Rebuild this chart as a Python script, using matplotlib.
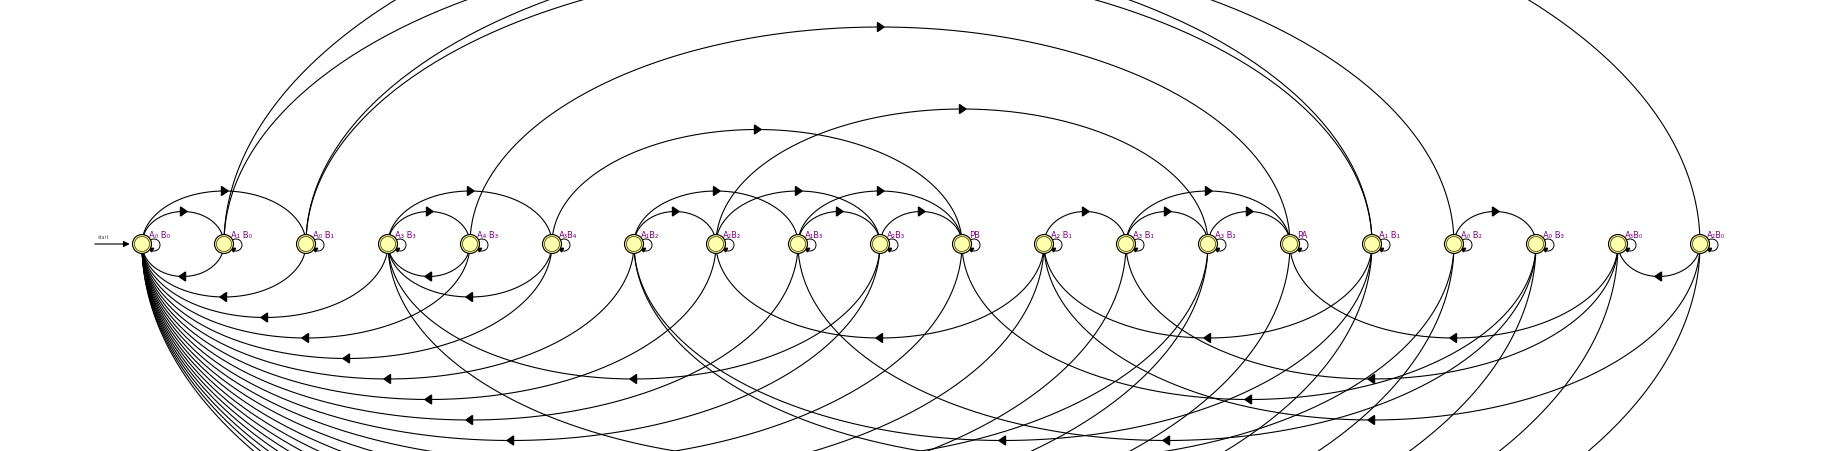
import numpy as np
import matplotlib.pyplot as plt
from matplotlib.patches import Circle, Polygon

# states, left to right
states = ["A₀ B₀", "A₁ B₀", "A₀ B₁", "A₃ B₃", "A₄ B₃", "A₃B₄", "A₁B₂", "A₂B₂",
          "A₁B₃", "A₂B₃", "PB", "A₂ B₁", "A₃ B₁", "A₃ B₂", "PA", "A₁ B₁",
          "A₀ B₂", "A₀ B₃", "A₃B₀", "A₂B₀"]

# transitions (from, to)
win_a = [("A₀ B₀", "A₁ B₀"), ("A₀ B₁", "A₁ B₁"), ("A₁ B₀", "A₂B₀"),
         ("A₁ B₁", "A₂ B₁"), ("A₀ B₂", "A₁B₂"), ("A₂B₀", "A₃B₀"),
         ("A₁B₂", "A₂B₂"), ("A₂ B₁", "A₃ B₁"), ("A₀ B₃", "A₁B₃"),
         ("A₃B₀", "PA"), ("A₂B₂", "A₃ B₂"), ("A₁B₃", "A₂B₃"),
         ("A₃ B₁", "PA"), ("A₃ B₂", "PA"), ("A₂B₃", "A₃ B₃"),
         ("A₃ B₃", "A₄ B₃"), ("A₄ B₃", "PA"), ("A₃B₄", "A₃ B₃")]
win_b = [("A₀ B₀", "A₀ B₁"), ("A₁ B₀", "A₁ B₁"), ("A₀ B₁", "A₀ B₂"),
         ("A₂B₀", "A₂ B₁"), ("A₁ B₁", "A₁B₂"), ("A₀ B₂", "A₀ B₃"),
         ("A₃B₀", "A₃ B₁"), ("A₂ B₁", "A₂B₂"), ("A₁B₂", "A₁B₃"),
         ("A₀ B₃", "PB"), ("A₃ B₁", "A₃ B₂"), ("A₂B₂", "A₂B₃"),
         ("A₁B₃", "PB"), ("A₂B₃", "PB"), ("A₃ B₂", "A₃ B₃"),
         ("A₃ B₃", "A₃B₄"), ("A₃B₄", "PB"), ("A₄ B₃", "A₃ B₃")]
# every state can also go back to the start
reset = [(s, "A₀ B₀") for s in states[1:]]

edges = win_a + win_b + reset

W, H = 1827, 451
x0, dx, yc = 142, 82, 244
r = 9.5

pos = {s: x0 + dx * i for i, s in enumerate(states)}

fig = plt.figure(figsize=(W / 100, H / 100), dpi=100)
ax = fig.add_axes([0, 0, 1, 1])
ax.set_xlim(0, W)
ax.set_ylim(H, 0)
ax.axis("off")

t = np.linspace(0, np.pi, 200)
for src, dst in edges:
    xa, xb = pos[src], pos[dst]
    cx = (xa + xb) / 2
    a = abs(xb - xa) / 2
    b = 0.25 * abs(xb - xa) + 12
    if xb > xa:
        # forward: above, arrow points right
        ys = yc - b * np.sin(t)
        ax.plot(cx + a * np.cos(t), ys, color="black", lw=0.8, zorder=1)
        ty = yc - b
        tri = [(cx - 2.5, ty - 4.5), (cx - 2.5, ty + 4.5), (cx + 4, ty)]
    else:
        # backward: below, arrow points left
        ys = yc + b * np.sin(t)
        ax.plot(cx + a * np.cos(t), ys, color="black", lw=0.8, zorder=1)
        ty = yc + b
        tri = [(cx + 2.5, ty - 4.5), (cx + 2.5, ty + 4.5), (cx - 4, ty)]
    ax.add_patch(Polygon(tri, closed=True, color="black", zorder=2))

# start arrow
ax.annotate("", xy=(x0 - r, yc), xytext=(92, yc),
            arrowprops=dict(arrowstyle="-|>", color="black", lw=0.8,
                            mutation_scale=9))
ax.text(104, yc - 4, "start", fontsize=3.5, color="#555555", ha="center", va="bottom")

# states
tl = np.linspace(-0.8 * np.pi, 0.75 * np.pi, 60)
for s in states:
    x = pos[s]
    # self loop
    ax.plot(x + 12 + 6 * np.cos(tl), yc + 1 - 6 * np.sin(tl), color="black", lw=0.7, zorder=3)
    ax.plot(x + 9, yc + 5, marker=(3, 0, 60), ms=3.5, color="black", zorder=4)
    ax.add_patch(Circle((x, yc), r, facecolor="#f3ee8a", edgecolor="black", lw=0.8, zorder=4))
    ax.add_patch(Circle((x, yc), r - 2, facecolor="#ffffb0", edgecolor="#333300", lw=0.5, zorder=5))
    ax.text(x + 7, yc - 8, s, fontsize=6, color="#800080", ha="left", va="center", zorder=6)

fig.savefig("out.png", dpi=100)
